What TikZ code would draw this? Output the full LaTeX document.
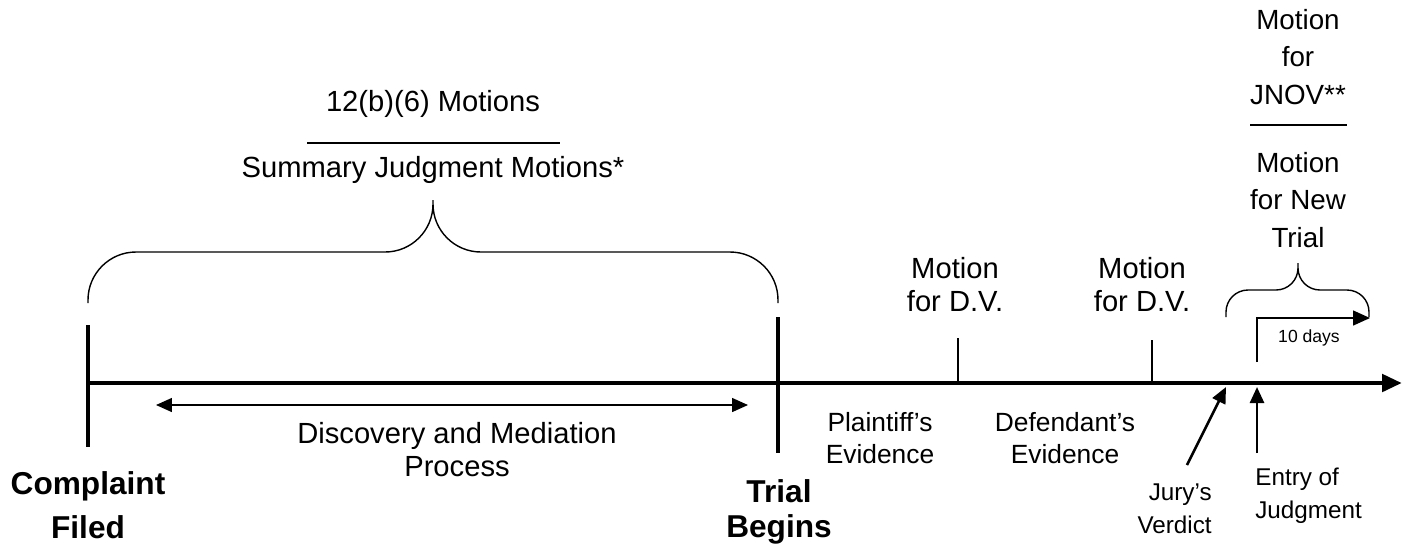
\documentclass[tikz,border=0pt]{standalone}
\usepackage{fontspec}
\setmainfont{Liberation Sans}
\usetikzlibrary{arrows.meta}

\begin{document}
\begin{tikzpicture}[
    x = 0.02cm, y = -0.02cm, % one unit per pixel, y going down
    > = {Triangle[length=0.32cm, width=0.28cm]}, % arrow head style
    inner sep = 0pt
  ]

  \tikzstyle{txt}=[align=center, font=\fontsize{16.6}{18.8}\selectfont]
  \tikzstyle{stacked}=[align=center, font=\fontsize{15.8}{21.3}\selectfont]
  \tikzstyle{evidence}=[align=center, font=\fontsize{15}{18.5}\selectfont]
  \tikzstyle{milestone}=[align=center, font=\bfseries\fontsize{18}{19.5}\selectfont]
  \tikzstyle{small}=[font=\fontsize{13.8}{19}\selectfont]
  \tikzstyle{tiny}=[font=\fontsize{10}{12}\selectfont]
  \tikzstyle{axis}=[line width=2.8pt]
  \tikzstyle{tick}=[line width=1.1pt]
  \tikzstyle{thin}=[line width=0.8pt]

  \useasboundingbox (0,0) rectangle (1406,556);

  % points on the time line
  \coordinate (filed) at (88,383);
  \coordinate (end) at (1402,383);
  \coordinate (verdict) at (1226,387);
  \coordinate (entry) at (1257,387);
  \coordinate (jurytail) at (1187,465);
  \coordinate (entrytail) at (1257,453);
  \coordinate (dstart) at (156,405);
  \coordinate (dend) at (748,405);
  \coordinate (daystail) at (1257,362);
  \coordinate (daystip) at (1370,318);

  % time line and ticks
  \draw[axis, -{Triangle[length=0.4cm, width=0.34cm]}] (filed) -- (end);
  \draw[axis] (88,325) -- (88,447);
  \draw[axis] (778,317) -- (778,453);
  \draw[tick] (958,338) -- (958,383);
  \draw[tick] (1152,340) -- (1152,383);

  % braces
  \draw[thin, rounded corners=0.96cm] (88,303) |- (433,252) -- (433,200)
    (778,303) |- (433,252) -- (433,200);
  \draw[thin, rounded corners=0.44cm] (1226,317) |- (1298,290) -- (1298,263)
    (1369,317) |- (1298,290) -- (1298,263);

  % labels
  \node[txt] (rule) at (433,104) {12(b)(6) Motions};
  \node[txt] (sjm) at (433,170) {Summary Judgment Motions*};
  \draw[thin] (307,143) -- (560,143);

  \node[txt] (disc) at (457,450) {Discovery and Mediation\\Process};
  \node[milestone, font=\bfseries\fontsize{18}{25}\selectfont] (filedtxt) at (88,505) {Complaint\\Filed};
  \node[milestone] (trialtxt) at (779,512) {Trial\\Begins};

  \node[txt] (pdv) at (955,285) {Motion\\for D.V.};
  \node[txt] (ddv) at (1142,285) {Motion\\for D.V.};
  \node[evidence] (pe) at (880,438) {Plaintiff’s\\Evidence};
  \node[evidence] (de) at (1065,438) {Defendant’s\\Evidence};

  \node[small, align=right, anchor=east] (jury) at (1212,509) {Jury’s\\Verdict};
  \node[small, align=left, anchor=west] (judg) at (1255,496) {Entry of\\Judgment};

  \node[stacked] (jnov) at (1298,57) {Motion\\for\\JNOV**};
  \draw[thin] (1250,125) -- (1347,125);
  \node[stacked] (newtrial) at (1298,200) {Motion\\for New\\Trial};
  \node[tiny] (days) at (1309,338) {10 days};

  % arrows
  \draw[line width=0.85pt, <->] (dstart) -- (dend);
  \draw[line width=1.5pt, ->] (jurytail) -- (verdict);
  \draw[line width=1.5pt, ->] (entrytail) -- (entry);
  \draw[thin, -{Triangle[length=0.34cm, width=0.3cm]}] (daystail) |- (daystip);

\end{tikzpicture}
\end{document}
